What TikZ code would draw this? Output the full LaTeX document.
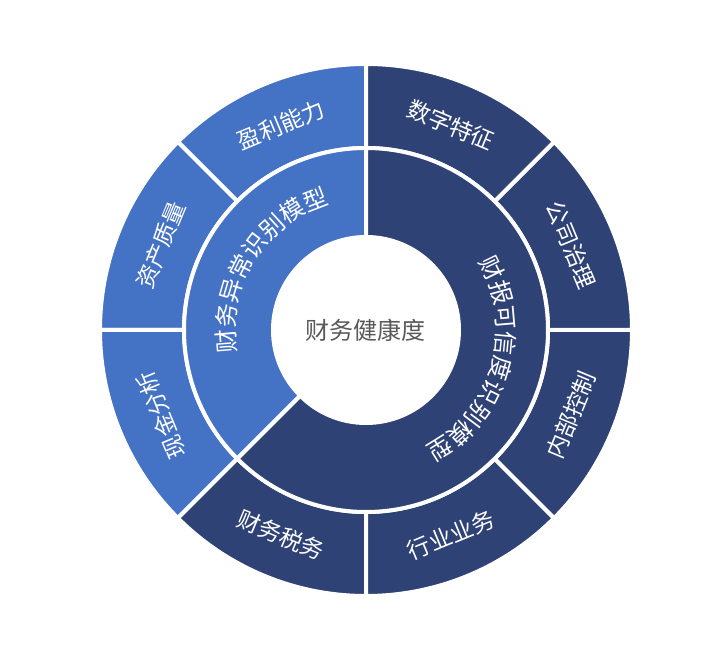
\documentclass[tikz,border=0pt]{standalone}
\usepackage{fontspec}
\newfontfamily\cjk{Noto Sans CJK SC}
\usepackage{tikz}
\usetikzlibrary{decorations.text}
\definecolor{lightseg}{HTML}{4472C4}
\definecolor{darkseg}{HTML}{2F4275}
\definecolor{hubgray}{HTML}{595959}
\tikzset{
  seg/.style={draw=white,line width=4pt,line join=round},
  outer label/.style={text=white,inner sep=0pt,font=\cjk\fontsize{23}{23}\selectfont},
}
\newcommand{\ringfont}{\color{white}\cjk\fontsize{24}{24}\selectfont}

\begin{document}
\begin{tikzpicture}[x=1pt,y=1pt]
              \useasboundingbox (-366,-322) rectangle (354,330);

              % Outer ring, eight segments
              \filldraw[seg,fill=lightseg] (90:182) arc[start angle=90,end angle=135,radius=182] -- (135:266) arc[start angle=135,end angle=90,radius=266] -- cycle;
              \filldraw[seg,fill=lightseg] (135:182) arc[start angle=135,end angle=180,radius=182] -- (180:266) arc[start angle=180,end angle=135,radius=266] -- cycle;
              \filldraw[seg,fill=lightseg] (180:182) arc[start angle=180,end angle=225,radius=182] -- (225:266) arc[start angle=225,end angle=180,radius=266] -- cycle;
              \filldraw[seg,fill=darkseg] (225:182) arc[start angle=225,end angle=270,radius=182] -- (270:266) arc[start angle=270,end angle=225,radius=266] -- cycle;
              \filldraw[seg,fill=darkseg] (270:182) arc[start angle=270,end angle=315,radius=182] -- (315:266) arc[start angle=315,end angle=270,radius=266] -- cycle;
              \filldraw[seg,fill=darkseg] (315:182) arc[start angle=315,end angle=360,radius=182] -- (360:266) arc[start angle=360,end angle=315,radius=266] -- cycle;
              \filldraw[seg,fill=darkseg] (0:182) arc[start angle=0,end angle=45,radius=182] -- (45:266) arc[start angle=45,end angle=0,radius=266] -- cycle;
              \filldraw[seg,fill=darkseg] (45:182) arc[start angle=45,end angle=90,radius=182] -- (90:266) arc[start angle=90,end angle=45,radius=266] -- cycle;

              % Inner ring, two models
              \filldraw[seg,fill=lightseg] (0,0) -- (90:182) arc[start angle=90,end angle=225,radius=182] -- cycle;
              \filldraw[seg,fill=darkseg] (0,0) -- (225:182) arc[start angle=225,end angle=450,radius=182] -- cycle;

              % Hub
              \node[circle,fill=white,draw=white,line width=4pt,minimum size=186pt,inner sep=0pt,
                    text=hubgray,font=\cjk\fontsize{24}{24}\selectfont] (hub) at (0,0) {财务健康度};

              % Curved labels of the inner ring
              \path[decorate,decoration={text along path,text align=center,
                    text={|\ringfont|财务异常识别模型}}]
                (208:131) arc[start angle=208,end angle=88,radius=131];
              \path[decorate,decoration={text along path,text align=center,
                    text={|\ringfont|财报可信度识别模型}}]
                (54:131) arc[start angle=54,end angle=-86,radius=131];

              % Labels of the outer ring
              \node[outer label,rotate=22.5] (yingli) at (112.5:222) {盈利能力};
              \node[outer label,rotate=67.5] (zichan) at (157.5:222) {资产质量};
              \node[outer label,rotate=112.5] (xianjin) at (202.5:222) {现金分析};
              \node[outer label,rotate=-22.5] (shuiwu) at (247.5:222) {财务税务};
              \node[outer label,rotate=22.5] (hangye) at (292.5:222) {行业业务};
              \node[outer label,rotate=67.5] (neibu) at (337.5:222) {内部控制};
              \node[outer label,rotate=-67.5] (zhili) at (22.5:222) {公司治理};
              \node[outer label,rotate=-22.5] (shuzi) at (67.5:222) {数字特征};
            \end{tikzpicture}
\end{document}
